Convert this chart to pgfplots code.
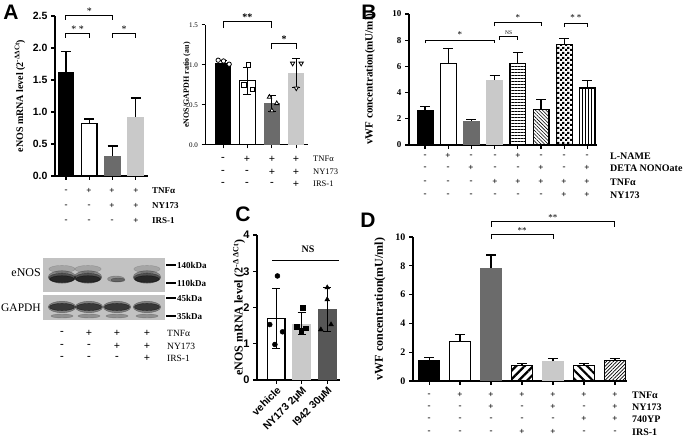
\documentclass[border=0pt]{standalone}
\usepackage{pgfplots}
\pgfplotsset{compat=1.18}
\usepackage{fontspec}
\setmainfont{Liberation Serif}
\setsansfont{Liberation Sans}
\usetikzlibrary{patterns,patterns.meta}
\pgfdeclarepatternformonly{checker}{\pgfqpoint{0pt}{0pt}}{\pgfqpoint{5pt}{5pt}}{\pgfqpoint{5pt}{5pt}}{%
  \pgfpathrectangle{\pgfqpoint{0pt}{0pt}}{\pgfqpoint{2.5pt}{2.5pt}}%
  \pgfpathrectangle{\pgfqpoint{2.5pt}{2.5pt}}{\pgfqpoint{2.5pt}{2.5pt}}%
  \pgfusepath{fill}}
\definecolor{dg}{HTML}{6B6B6B}
\definecolor{lg}{HTML}{C9C9C9}
\definecolor{cdg}{HTML}{575757}
\definecolor{strip}{HTML}{C2C2C2}
\pgfplotsset{
  panel/.style={scale only axis, clip=false, anchor=south west,
    axis lines*=left, axis line style={line width=1.2pt,-},
    every tick/.style={line width=1.2pt, black},
    tick align=outside, major tick length=4pt, ymin=0,
    xticklabels={}},
  bb/.style={ybar, bar shift=0pt, line width=1.2pt},
  eplus/.style={error bars/.cd, y dir=plus, y explicit, error mark=-,
    error bar style={line width=1.2pt, draw=black, solid},
    error mark options={rotate=90, line width=1.2pt, mark size=5pt, draw=black, solid}},
  eboth/.style={error bars/.cd, y dir=both, y explicit, error mark=-,
    error bar style={line width=0.9pt, draw=black, solid},
    error mark options={rotate=90, line width=0.9pt, mark size=4pt, draw=black, solid}},
  band/.style={only marks, mark=*, mark options={draw=none, #1}},
}
\tikzset{
  sg/.style={inner sep=0pt, anchor=center},
  rl/.style={inner sep=0pt, anchor=west},
  brk/.style={line width=1pt},
}
\begin{document}
\begin{tikzpicture}[x=1pt,y=1pt]
\useasboundingbox (0,0) rectangle (688,441);

% ---------------- Panel A left ----------------
\begin{axis}[panel, at={(55pt,265pt)}, width=93pt, height=160pt,
  xmin=-0.47, xmax=3.52, ymax=2.5, xtick={0,1,2,3},
  ytick={0,0.5,1,1.5,2,2.5}, yticklabels={0.0,0.5,1.0,1.5,2.0,2.5},
  yticklabel style={font=\sffamily\bfseries\fontsize{10.5}{10.5}\selectfont},
  ylabel={eNOS mRNA level (2\textsuperscript{-ΔΔCt})},
  ylabel style={font=\bfseries\fontsize{10}{12}\selectfont, at={(axis description cs:-0.376,0.5)}, anchor=center}]
\addplot[bb, bar width=0.66, fill=black, draw=black, eplus] coordinates {(0,1.62) +- (0,0.33)};
\addplot[bb, bar width=0.66, fill=white, draw=black, eplus] coordinates {(1,0.82) +- (0,0.07)};
\addplot[bb, bar width=0.72, fill=dg, draw=none, eplus] coordinates {(2,0.32) +- (0,0.15)};
\addplot[bb, bar width=0.72, fill=lg, draw=none, eplus] coordinates {(3,0.92) +- (0,0.30)};
\draw[brk] (axis cs:0,2.44) -- (axis cs:0,2.5) -- (axis cs:2,2.5) -- (axis cs:2,2.44);
\node[font=\fontsize{10}{10}\selectfont, anchor=south, inner sep=1pt] at (axis cs:1,2.5) {*};
\draw[brk] (axis cs:0,2.16) -- (axis cs:0,2.23) -- (axis cs:1,2.23) -- (axis cs:1,2.16);
\node[font=\fontsize{10}{10}\selectfont, anchor=south, inner sep=1pt] at (axis cs:0.5,2.23) {* *};
\draw[brk] (axis cs:2,2.16) -- (axis cs:2,2.23) -- (axis cs:3,2.23) -- (axis cs:3,2.16);
\node[font=\fontsize{10}{10}\selectfont, anchor=south, inner sep=1pt] at (axis cs:2.5,2.23) {*};
\end{axis}

% ---------------- Panel A middle ----------------
\begin{axis}[panel, at={(205pt,296pt)}, width=103pt, height=120pt,
  axis line style={line width=1pt,-}, every tick/.style={line width=1pt,black}, major tick length=3.5pt,
  xmin=-0.74, xmax=3.48, ymax=1.5, xtick={0,1,2,3},
  ytick={0,0.5,1,1.5}, yticklabels={0.0,0.5,1.0,1.5},
  yticklabel style={font=\fontsize{7}{7}\selectfont},
  ylabel={eNOS/GAPDH ratio (au)},
  ylabel style={font=\bfseries\fontsize{8}{9}\selectfont, at={(axis description cs:-0.175,0.5)}, anchor=center}]
\addplot[bb, bar width=0.66, fill=black, draw=none, eboth] coordinates {(0,1.03) +- (0,0.03)};
\addplot[bb, bar width=0.62, fill=white, draw=black, line width=1pt, eboth] coordinates {(1,0.80) +- (0,0.17)};
\addplot[bb, bar width=0.66, fill=dg, draw=none, eboth] coordinates {(2,0.52) +- (0,0.105)};
\addplot[bb, bar width=0.66, fill=lg, draw=none, eboth] coordinates {(3,0.90) +- (0,0.18)};
\addplot[only marks, mark=*, mark size=2.2pt, mark options={fill=white, draw=black, line width=0.8pt}] coordinates {(-0.2,1.06) (0.02,1.05) (0.25,1.01)};
\addplot[only marks, mark=square*, mark size=2.1pt, mark options={fill=white, draw=black, line width=0.8pt}] coordinates {(1.05,1.0) (0.85,0.75) (1.2,0.69)};
\addplot[only marks, mark=triangle*, mark size=2.5pt, mark options={fill=white, draw=black, line width=0.8pt}] coordinates {(1.9,0.6) (2.0,0.43) (2.2,0.52)};
\addplot[only marks, mark=triangle*, mark size=2.5pt, mark options={fill=white, draw=black, line width=0.8pt, rotate=180}] coordinates {(2.85,1.02) (3.2,1.02) (3.0,0.71)};
\draw[brk] (axis cs:0,1.46) -- (axis cs:0,1.54) -- (axis cs:2,1.54) -- (axis cs:2,1.46);
\node[font=\bfseries\fontsize{10}{10}\selectfont, anchor=south, inner sep=1pt] at (axis cs:1,1.54) {**};
\draw[brk] (axis cs:2,1.2) -- (axis cs:2,1.27) -- (axis cs:3,1.27) -- (axis cs:3,1.2);
\node[font=\bfseries\fontsize{10}{10}\selectfont, anchor=south, inner sep=1pt] at (axis cs:2.5,1.27) {*};
\end{axis}

% ---------------- Panel B ----------------
\begin{axis}[panel, at={(409pt,296pt)}, width=188pt, height=131pt,
  xmin=-0.69, xmax=7.41, ymax=10, xtick={0,1,2,3,4,5,6,7},
  ytick={0,2,4,6,8,10}, yticklabels={0,2,4,6,8,10},
  yticklabel style={font=\bfseries\fontsize{9}{9}\selectfont},
  ylabel={vWF concentration(mU/ml)},
  ylabel style={font=\bfseries\fontsize{11}{12}\selectfont, at={(axis description cs:-0.207,0.5)}, anchor=center}]
\addplot[bb, bar width=0.68, fill=black, draw=black, eplus] coordinates {(0,2.65) +- (0,0.30)};
\addplot[bb, bar width=0.68, fill=white, draw=black, eplus] coordinates {(1,6.2) +- (0,1.15)};
\addplot[bb, bar width=0.73, fill=dg, draw=none, eplus] coordinates {(2,1.8) +- (0,0.15)};
\addplot[bb, bar width=0.73, fill=lg, draw=none, eplus] coordinates {(3,4.95) +- (0,0.35)};
\addplot[bb, bar width=0.68, draw=black, pattern={Lines[angle=0,distance=3pt,line width=0.8pt]}, eplus] coordinates {(4,6.2) +- (0,0.85)};
\addplot[bb, bar width=0.68, draw=black, pattern={Lines[angle=-45,distance=2.5pt,line width=0.6pt]}, eplus] coordinates {(5,2.7) +- (0,0.75)};
\addplot[bb, bar width=0.68, draw=black, pattern=checker, eplus] coordinates {(6,7.65) +- (0,0.45)};
\addplot[bb, bar width=0.68, draw=black, pattern={Lines[angle=90,distance=3pt,line width=0.8pt]}, eplus] coordinates {(7,4.35) +- (0,0.6)};
\draw[line width=0.8pt] (axis cs:0,7.75) -- (axis cs:0,8.02) -- (axis cs:3,8.02) -- (axis cs:3,7.75);
\node[font=\fontsize{9}{9}\selectfont, anchor=south, inner sep=2pt] at (axis cs:1.5,8.02) {*};
\draw[line width=0.8pt] (axis cs:3.2,8.0) -- (axis cs:3.2,8.27) -- (axis cs:4,8.27) -- (axis cs:4,8.0);
\node[font=\fontsize{5.5}{6}\selectfont, anchor=south, inner sep=1.5pt] at (axis cs:3.6,8.27) {NS};
\draw[line width=0.8pt] (axis cs:3,9.05) -- (axis cs:3,9.34) -- (axis cs:5,9.34) -- (axis cs:5,9.05);
\node[font=\fontsize{9}{9}\selectfont, anchor=south, inner sep=2pt] at (axis cs:4,9.34) {*};
\draw[line width=0.8pt] (axis cs:6,9.0) -- (axis cs:6,9.3) -- (axis cs:7,9.3) -- (axis cs:7,9.0);
\node[font=\fontsize{9}{9}\selectfont, anchor=south, inner sep=2pt] at (axis cs:6.5,9.3) {* *};
\end{axis}

% ---------------- Panel C ----------------
\begin{axis}[panel, at={(257pt,61pt)}, width=83pt, height=145pt,
  xmin=-0.75, xmax=2.5, ymax=4, xtick={0,1,2},
  xticklabels={vehicle,NY173 2μM,I942 30μM},
  xticklabel style={rotate=45, anchor=north east, font=\sffamily\bfseries\fontsize{10.5}{10.5}\selectfont, inner sep=1pt},
  ytick={0,1,2,3,4}, yticklabels={0,1,2,3,4},
  yticklabel style={font=\sffamily\bfseries\fontsize{11}{11}\selectfont},
  ylabel={eNOS mRNA level (2\textsuperscript{-Δ ΔCt})},
  ylabel style={font=\bfseries\fontsize{12}{13}\selectfont, at={(axis description cs:-0.215,0.5)}, anchor=center}]
\addplot[bb, bar width=0.7, fill=white, draw=black, line width=1.4pt, eboth] coordinates {(0,1.7) +- (0,0.82)};
\addplot[bb, bar width=0.75, fill=lg, draw=none, eboth] coordinates {(1,1.55) +- (0,0.30)};
\addplot[bb, bar width=0.75, fill=cdg, draw=none, eboth] coordinates {(2,1.95) +- (0,0.60)};
\addplot[only marks, mark=*, mark size=2.5pt, black] coordinates {(0.05,2.87) (-0.25,1.53) (0.25,1.33) (-0.05,0.98)};
\addplot[only marks, mark=square*, mark size=2.4pt, black] coordinates {(1.05,2.0) (0.8,1.48) (1.15,1.43) (0.98,1.35)};
\addplot[only marks, mark=triangle*, mark size=2.8pt, black] coordinates {(2.0,2.55) (2.0,2.22) (1.75,1.39) (2.15,1.53)};
\draw[line width=1.2pt] (axis cs:-0.15,3.3) -- (axis cs:2.45,3.3);
\node[font=\bfseries\fontsize{10}{10}\selectfont] at (axis cs:1.25,3.6) {NS};
\end{axis}

% ---------------- Panel D ----------------
\begin{axis}[panel, at={(413pt,60pt)}, width=214pt, height=144pt,
  xmin=-0.52, xmax=6.39, ymax=10, xtick={0,1,2,3,4,5,6},
  ytick={0,2,4,6,8,10}, yticklabels={0,2,4,6,8,10},
  yticklabel style={font=\bfseries\fontsize{10}{10}\selectfont},
  ylabel={vWF concentration(mU/ml)},
  ylabel style={font=\bfseries\fontsize{12}{13}\selectfont, at={(axis description cs:-0.154,0.5)}, anchor=center}]
\addplot[bb, bar width=0.67, fill=black, draw=black, eplus] coordinates {(0,1.45) +- (0,0.17)};
\addplot[bb, bar width=0.67, fill=white, draw=black, eplus] coordinates {(1,2.75) +- (0,0.5)};
\addplot[bb, bar width=0.71, fill=dg, draw=none, eplus] coordinates {(2,7.85) +- (0,0.9)};
\addplot[bb, bar width=0.67, draw=black, pattern={Lines[angle=45,distance=6pt,line width=2.2pt]}, eplus] coordinates {(3,1.1) +- (0,0.1)};
\addplot[bb, bar width=0.71, fill=lg, draw=none, eplus] coordinates {(4,1.37) +- (0,0.18)};
\addplot[bb, bar width=0.67, draw=black, pattern={Lines[angle=-45,distance=6pt,line width=2.2pt]}, eplus] coordinates {(5,1.1) +- (0,0.1)};
\addplot[bb, bar width=0.67, draw=black, pattern={Lines[angle=45,distance=2.5pt,line width=0.7pt]}, eplus] coordinates {(6,1.45) +- (0,0.1)};
\draw[line width=0.9pt] (axis cs:2,10.7) -- (axis cs:2,11.05) -- (axis cs:6,11.05) -- (axis cs:6,10.7);
\node[font=\fontsize{9}{9}\selectfont, anchor=south, inner sep=1.5pt] at (axis cs:4,11.05) {**};
\draw[line width=0.9pt] (axis cs:2,9.85) -- (axis cs:2,10.2) -- (axis cs:4,10.2) -- (axis cs:4,9.85);
\node[font=\fontsize{9}{9}\selectfont, anchor=south, inner sep=0.5pt] at (axis cs:3,10.2) {**};
\end{axis}

% ---------------- Western blot ----------------
\begin{axis}[at={(43pt,121pt)}, anchor=south west, scale only axis, width=122pt, height=62pt,
  hide axis, xmin=43, xmax=165, ymin=121, ymax=183, clip=false]
\fill[strip] (axis cs:43,149) rectangle (axis cs:165,183);
\fill[strip] (axis cs:43,121) rectangle (axis cs:165,146);
% eNOS: upper faint smear, then main band in three soft layers
\addplot[band={xscale=2.2, yscale=0.6, fill=black, opacity=0.15}, mark size=6pt] coordinates {(62,172) (88,172) (147,172)};
\addplot[band={xscale=2.3, yscale=1.05, fill=black, opacity=0.3}, mark size=6pt] coordinates {(62,164) (88,164) (147,164)};
\addplot[band={xscale=2.2, yscale=0.8, fill=black, opacity=0.4}, mark size=6pt] coordinates {(62,163) (88,163) (147,163)};
\addplot[band={xscale=2.0, yscale=0.55, fill=black, opacity=0.5}, mark size=6pt] coordinates {(62,162) (88,162) (147,162)};
\addplot[band={xscale=1.7, yscale=0.6, fill=black, opacity=0.25}, mark size=5pt] coordinates {(116,162)};
\addplot[band={xscale=1.4, yscale=0.4, fill=black, opacity=0.3}, mark size=5pt] coordinates {(118,161)};
% GAPDH: main band and faint lower band
\addplot[band={xscale=2.3, yscale=0.95, fill=black, opacity=0.35}, mark size=6pt] coordinates {(62,134) (89,134) (117,134) (147,134)};
\addplot[band={xscale=2.1, yscale=0.6, fill=black, opacity=0.55}, mark size=6pt] coordinates {(62,134) (89,134) (117,134) (147,134)};
\addplot[band={xscale=2.2, yscale=0.4, fill=black, opacity=0.25}, mark size=5pt] coordinates {(62,125) (89,125) (117,125) (147,125)};
\end{axis}
\node[anchor=east, inner sep=0pt, font=\fontsize{12}{12}\selectfont] at (41,168) {eNOS};
\node[anchor=east, inner sep=0pt, font=\fontsize{11.5}{12}\selectfont] at (41,133) {GAPDH};
\foreach \yy/\tt in {176/140kDa,158/110kDa,143/45kDa,125/35kDa}{
  \draw[line width=1.3pt] (166,\yy) -- (176,\yy);
  \node[rl, font=\bfseries\fontsize{9}{9}\selectfont] at (177,\yy) {\tt};
}

% ---------------- Row labels ----------------
\begin{scope}[every node/.append style={font=\bfseries\fontsize{9}{9}\selectfont}]
% A left
\foreach \x/\s in {66/-,89/+,112/+,136/+} \node[sg] at (\x,250) {\s};
\foreach \x/\s in {66/-,89/-,112/+,136/+} \node[sg] at (\x,235) {\s};
\foreach \x/\s in {66/-,89/-,112/-,136/+} \node[sg] at (\x,220) {\s};
\node[rl] at (152,250) {TNFα};
\node[rl] at (152,235) {NY173};
\node[rl] at (152,220) {IRS-1};
\end{scope}

\begin{scope}[every node/.append style={font=\bfseries\fontsize{11}{11}\selectfont}]
% A middle
\foreach \x/\s in {223/-,247/+,272/+,296/+} \node[sg] at (\x,282) {\s};
\foreach \x/\s in {223/-,247/-,272/+,296/+} \node[sg] at (\x,269) {\s};
\foreach \x/\s in {223/-,247/-,272/-,296/+} \node[sg] at (\x,257) {\s};
% blot
\foreach \x/\s in {62/-,89/+,117/+,147/+} \node[sg] at (\x,108) {\s};
\foreach \x/\s in {62/-,89/-,117/+,147/+} \node[sg] at (\x,95) {\s};
\foreach \x/\s in {62/-,89/-,117/-,147/+} \node[sg] at (\x,83) {\s};
\end{scope}
\begin{scope}[every node/.append style={font=\fontsize{8.5}{9}\selectfont}]
\node[rl] at (313,282) {TNFα};
\node[rl] at (313,269) {NY173};
\node[rl] at (313,257) {IRS-1};
\end{scope}
\begin{scope}[every node/.append style={font=\fontsize{9.5}{10}\selectfont}]
\node[rl] at (167,108) {TNFα};
\node[rl] at (167,95) {NY173};
\node[rl] at (167,83) {IRS-1};
\end{scope}

\begin{scope}[every node/.append style={font=\bfseries\fontsize{9}{9}\selectfont}]
% B
\foreach \x/\s in {425/-,448/+,471/-,495/-,518/+,541/-,564/-,587/-} \node[sg] at (\x,285) {\s};
\foreach \x/\s in {425/-,448/-,471/+,495/-,518/-,541/+,564/-,587/+} \node[sg] at (\x,273) {\s};
\foreach \x/\s in {425/-,448/-,471/-,495/+,518/+,541/+,564/+,587/+} \node[sg] at (\x,259) {\s};
\foreach \x/\s in {425/-,448/-,471/-,495/-,518/-,541/-,564/+,587/+} \node[sg] at (\x,246) {\s};
% D
\foreach \x/\s in {429/-,460/+,491/+,522/+,553/+,584/+,615/+} \node[sg] at (\x,46) {\s};
\foreach \x/\s in {429/-,460/-,491/+,522/-,553/+,584/-,615/+} \node[sg] at (\x,34) {\s};
\foreach \x/\s in {429/-,460/-,491/-,522/-,553/-,584/+,615/+} \node[sg] at (\x,22) {\s};
\foreach \x/\s in {429/-,460/-,491/-,522/+,553/+,584/-,615/-} \node[sg] at (\x,9) {\s};
\end{scope}
\begin{scope}[every node/.append style={font=\bfseries\fontsize{10}{10}\selectfont}]
\node[rl] at (610,285) {L-NAME};
\node[rl] at (610,273) {DETA NONOate};
\node[rl] at (610,259) {TNFα};
\node[rl] at (610,246) {NY173};
\node[rl] at (632,46) {TNFα};
\node[rl] at (632,34) {NY173};
\node[rl] at (632,22) {740YP};
\node[rl] at (632,9) {IRS-1};
\end{scope}

% ---------------- Panel letters ----------------
\begin{scope}[every node/.append style={font=\sffamily\bfseries\fontsize{21}{21}\selectfont, inner sep=0pt}]
\node at (11,429) {A};
\node at (369,429) {B};
\node at (243,227) {C};
\node at (368,221) {D};
\end{scope}
\end{tikzpicture}
\end{document}
